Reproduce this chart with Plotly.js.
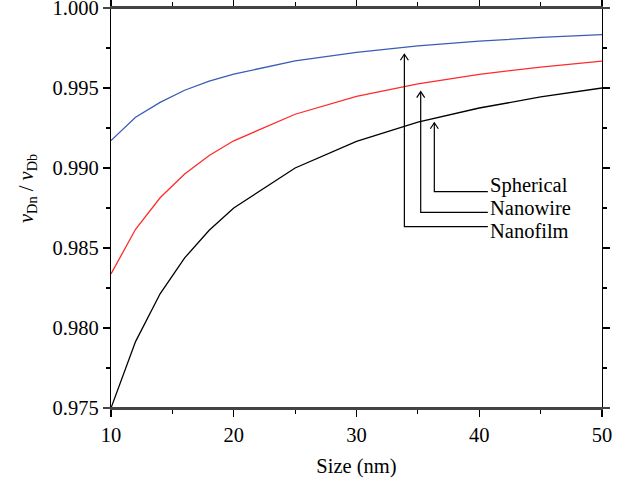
<!DOCTYPE html>
<html>
<head>
<meta charset="utf-8">
<script src="https://cdn.plot.ly/plotly-3.0.1.min.js"></script>
<style>html,body{margin:0;padding:0;background:#fff;}#chart{width:630px;height:482px;}</style>
</head>
<body>
<div id="chart"></div>
<script>
// Data
const sizes = [10, 12, 14, 16, 18, 20, 25, 30, 35, 40, 45, 50];
const nanofilm  = [0.99171, 0.99317, 0.99410, 0.99486, 0.99543, 0.99587, 0.99669, 0.99723, 0.99763, 0.99793, 0.99816, 0.99834];
const nanowire  = [0.98338, 0.98617, 0.98814, 0.98963, 0.99078, 0.99170, 0.99336, 0.99447, 0.99526, 0.99585, 0.99631, 0.99668];
const spherical = [0.97500, 0.97915, 0.98214, 0.98438, 0.98611, 0.98750, 0.99000, 0.99167, 0.99286, 0.99375, 0.99444, 0.99500];

const seriesNames = ["Nanofilm", "Nanowire", "Spherical"];
const xTicks = [10, 20, 30, 40, 50];
const yTicks = [0.975, 0.980, 0.985, 0.990, 0.995, 1.000];

// Callout labels: vertical line x, arrow tip y, elbow y, text y
const calloutX    = [33.9, 35.23, 36.34];
const calloutTip  = [0.99711, 0.99477, 0.99283];
const calloutElb  = [0.98633, 0.98723, 0.98852];
const calloutTxtY = [0.98608, 0.98752, 0.98888];
const calloutEndX = 40.7;
const calloutTxtX = 40.75;

const font = "Liberation Serif";
const fs = 20.5;
const colors = ["#3a5cb4", "#ff2a2a", "#000000"];
const ys = [nanofilm, nanowire, spherical];

const traces = ys.map((y, i) => ({
  x: sizes, y: y, type: "scatter", mode: "lines", name: seriesNames[i],
  line: {color: colors[i], width: 1.3}
}));

// arrowhead size in data units (about 4px half-width, 6px height)
const xPerPx = 40 / 491, yPerPx = 0.025 / 400;
const hw = 4 * xPerPx, hh = 6 * yPerPx;

const shapes = [];
const annotations = [];
// horizontal frame lines overshooting the vertical axes a little
const over = 8 / 491;
[0, 1].forEach(yy => shapes.push({
  type: "line", xref: "paper", yref: "paper", x0: -over, x1: 1 + over, y0: yy, y1: yy,
  line: {color: "#444", width: 2}, layer: "above"
}));
for (let i = 0; i < 3; i++) {
  shapes.push({
    type: "path", xref: "x", yref: "y",
    path: `M ${calloutEndX},${calloutElb[i]} L ${calloutX[i]},${calloutElb[i]} L ${calloutX[i]},${calloutTip[i]}`,
    line: {color: "#000", width: 1.2}
  });
  shapes.push({
    type: "path", xref: "x", yref: "y",
    path: `M ${calloutX[i] - hw},${calloutTip[i] - hh} L ${calloutX[i]},${calloutTip[i]} L ${calloutX[i] + hw},${calloutTip[i] - hh}`,
    line: {color: "#000", width: 1.2}
  });
  annotations.push({
    x: calloutTxtX, y: calloutTxtY[i], xref: "x", yref: "y",
    text: seriesNames[i], showarrow: false, xanchor: "left", yanchor: "middle",
    font: {family: font, size: fs, color: "#000"}
  });
}
// y-axis title
annotations.push({
  x: 0, y: 0.5, xref: "paper", yref: "paper", xshift: -84, yshift: 19,
  xanchor: "center", yanchor: "middle", textangle: -90, showarrow: false,
  text: "<i>ν</i><sub>Dn</sub> / <i>ν</i><sub>Db</sub>",
  font: {family: font, size: fs, color: "#000"}
});

const layout = {
  width: 630, height: 482,
  margin: {l: 111, r: 28, t: 8, b: 74},
  paper_bgcolor: "#fff", plot_bgcolor: "#fff",
  showlegend: false,
  font: {family: font, size: fs, color: "#000"},
  xaxis: {
    range: [10, 50], tickvals: xTicks, ticktext: xTicks.map(String),
    ticks: "outside", ticklen: 7, tickwidth: 1.2, tickcolor: "#000",
    showline: true, linecolor: "#444", linewidth: 2, mirror: "ticks",
    showgrid: false, zeroline: false, ticklabeloverflow: "allow",
    minor: {dtick: 5, ticks: "outside", ticklen: 4, tickwidth: 1.2, tickcolor: "#000", showgrid: false},
    tickfont: {family: font, size: fs, color: "#000"},
    title: {text: "Size (nm)", font: {family: font, size: fs, color: "#000"}, standoff: 14}
  },
  yaxis: {
    range: [0.975, 1.000], tickvals: yTicks, ticktext: yTicks.map(v => v.toFixed(3)),
    ticks: "outside", ticklen: 7, tickwidth: 1.2, tickcolor: "#000",
    showline: true, linecolor: "#000", linewidth: 1.2, mirror: "ticks",
    showgrid: false, zeroline: false, ticklabeloverflow: "allow",
    minor: {dtick: 0.0025, ticks: "outside", ticklen: 4, tickwidth: 1.2, tickcolor: "#000", showgrid: false},
    tickfont: {family: font, size: fs, color: "#000"}
  },
  shapes: shapes,
  annotations: annotations
};

Plotly.newPlot("chart", traces, layout, {displayModeBar: false, staticPlot: true});
</script>
</body>
</html>
